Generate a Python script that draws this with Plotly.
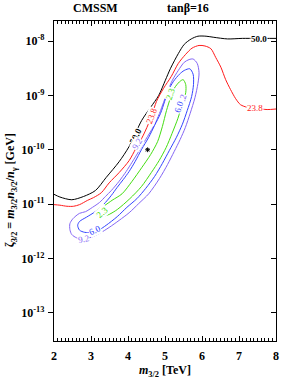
import plotly.graph_objects as go

# ---- data (x in TeV, z = log10 of zeta_3/2 in GeV) ----
c50_x = [2.00, 2.16, 2.48, 2.80, 3.12, 3.41, 3.76, 4.03, 4.37, 4.61, 4.83, 5.01, 5.15, 5.36, 5.52, 5.71, 5.89, 6.11, 6.32, 6.69, 7.09, 7.49, 8.00]
c50_z = [-10.82, -10.87, -10.92, -10.86, -10.75, -10.51, -10.22, -9.94, -9.46, -9.22, -9.00, -8.72, -8.50, -8.23, -8.06, -7.96, -7.91, -7.91, -7.93, -7.96, -7.95, -7.95, -7.95]

c238_x = [2.00, 2.16, 2.35, 2.53, 2.69, 2.91, 3.07, 3.28, 3.49, 3.76, 4.03, 4.21, 4.37, 4.51, 4.64, 4.77, 4.96, 5.17, 5.36, 5.55, 5.73, 5.92, 6.08, 6.24, 6.37, 6.51, 6.64, 6.77, 6.91, 7.04, 7.23, 7.49, 7.76, 8.00]
c238_z = [-11.01, -11.02, -11.04, -11.04, -11.01, -10.93, -10.88, -10.79, -10.61, -10.42, -10.20, -9.98, -9.79, -9.59, -9.37, -9.11, -8.87, -8.65, -8.41, -8.25, -8.13, -8.08, -8.09, -8.14, -8.30, -8.48, -8.71, -8.89, -9.06, -9.17, -9.22, -9.24, -9.26, -9.25]

c92_x = [5.76, 5.87, 5.92, 5.89, 5.81, 5.68, 5.55, 5.41, 5.25, 5.07, 4.85, 4.56, 4.29, 4.03, 3.76, 3.49, 3.23, 3.01, 2.80, 2.61, 2.48, 2.43, 2.43, 2.51, 2.69, 2.85, 3.04, 3.23, 3.39, 3.55, 3.76, 3.95, 4.11, 4.29, 4.48, 4.69, 4.85, 4.96, 5.07, 5.20, 5.36, 5.52, 5.65]
c92_z = [-8.33, -8.41, -8.58, -8.78, -9.04, -9.33, -9.59, -9.81, -10.03, -10.27, -10.53, -10.81, -10.99, -11.16, -11.30, -11.43, -11.54, -11.61, -11.63, -11.62, -11.56, -11.47, -11.36, -11.27, -11.17, -11.14, -11.06, -10.97, -10.86, -10.75, -10.58, -10.40, -10.23, -10.03, -9.81, -9.57, -9.33, -9.13, -8.93, -8.72, -8.54, -8.39, -8.34]

c60_x = [5.67, 5.76, 5.77, 5.72, 5.60, 5.47, 5.31, 5.12, 4.93, 4.72, 4.48, 4.24, 3.97, 3.71, 3.41, 3.23, 3.01, 2.83, 2.69, 2.64, 2.69, 2.88, 3.07, 3.23, 3.39, 3.55, 3.71, 3.87, 4.03, 4.19, 4.37, 4.56, 4.72, 4.88, 4.99, 5.09, 5.23, 5.39, 5.52]
c60_z = [-8.51, -8.61, -8.80, -9.02, -9.28, -9.53, -9.77, -10.01, -10.25, -10.49, -10.71, -10.90, -11.06, -11.23, -11.39, -11.47, -11.52, -11.52, -11.48, -11.39, -11.32, -11.24, -11.16, -11.08, -10.97, -10.84, -10.69, -10.55, -10.40, -10.22, -9.99, -9.77, -9.55, -9.33, -9.11, -8.91, -8.74, -8.61, -8.54]

c23_x = [5.49, 5.56, 5.56, 5.47, 5.35, 5.19, 5.03, 4.84, 4.63, 4.36, 4.05, 3.71, 3.49, 3.31, 3.17, 3.13, 3.20, 3.36, 3.57, 3.84, 4.11, 4.37, 4.61, 4.80, 4.93, 5.04, 5.15, 5.25, 5.39]
c23_z = [-8.71, -8.80, -8.95, -9.15, -9.42, -9.70, -9.96, -10.20, -10.42, -10.68, -10.90, -11.10, -11.19, -11.23, -11.21, -11.16, -11.09, -11.03, -10.93, -10.81, -10.58, -10.33, -10.09, -9.85, -9.57, -9.28, -9.04, -8.87, -8.75]

best_x = [4.53]
best_z = [-10.00]

x_ticks = [2, 3, 4, 5, 6, 7, 8]
y_tick_exp = [-8, -9, -10, -11, -12, -13]
y_tick_text = ["10<sup>-8</sup>", "10<sup>-9</sup>", "10<sup>-10</sup>", "10<sup>-11</sup>", "10<sup>-12</sup>", "10<sup>-13</sup>"]

BLACK = "#000000"
RED = "#ff1a1a"
PURPLE = "#8466f5"
BLUE = "#3344ff"
GREEN = "#44dd11"
SERIF = "Liberation Serif"


def pw(z):
    return [10 ** v for v in z]


def closed(a):
    return list(a) + [a[0]]


fig = go.Figure()
curves = [
    (c50_x, c50_z, BLACK, False),
    (c238_x, c238_z, RED, False),
    (c92_x, c92_z, PURPLE, True),
    (c60_x, c60_z, BLUE, True),
    (c23_x, c23_z, GREEN, True),
]
for cx, cz, col, cl in curves:
    xs = closed(cx) if cl else cx
    zs = closed(cz) if cl else cz
    fig.add_trace(go.Scatter(x=xs, y=pw(zs), mode="lines",
                             line=dict(color=col, width=1, shape="spline", smoothing=0.8),
                             showlegend=False, hoverinfo="skip"))

fig.add_trace(go.Scatter(x=best_x, y=pw(best_z), mode="markers",
                         marker=dict(symbol="asterisk-open", size=4, color="black",
                                     line=dict(color="black", width=1)),
                         showlegend=False))
# dummy trace for right-side axis
fig.add_trace(go.Scatter(x=[2], y=[1e-14], yaxis="y2", mode="markers",
                         marker=dict(opacity=0), showlegend=False, hoverinfo="skip"))

labels = [
    ("50.0", 7.55, -7.96, 0, BLACK, True),
    ("50.0", 4.20, -9.74, -63, BLACK, True),
    ("23.8", 4.63, -9.37, -69, RED, False),
    ("23.8", 7.44, -9.23, 0, RED, False),
    ("9.2", 4.25, -9.90, -58, PURPLE, False),
    ("2.3", 5.15, -8.98, -70, GREEN, False),
    ("9.2", 5.47, -9.09, -72, PURPLE, False),
    ("6.0", 5.39, -9.20, -72, BLUE, False),
    ("2.3", 3.31, -11.14, -42, GREEN, False),
    ("6.0", 3.12, -11.48, -25, BLUE, False),
    ("9.2", 2.80, -11.64, -10, PURPLE, False),
]
anns = []
for t, lx, lz, ang, col, b in labels:
    anns.append(dict(text=t, x=lx, y=lz, xref="x", yref="y", showarrow=False,
                     xanchor="center", yanchor="middle",
                     textangle=ang, bgcolor="white", borderpad=0,
                     font=dict(family=SERIF, size=9, color=col, weight="bold" if b else "normal")))

title_font = dict(family=SERIF, size=12, color="black", weight="bold")
anns += [
    dict(text="CMSSM", xref="paper", yref="paper", x=0.187, y=1.0 + 13 / 320, showarrow=False,
         xanchor="center", yanchor="middle", font=title_font),
    dict(text="tanβ=16", xref="paper", yref="paper", x=0.604, y=1.0 + 13 / 320, showarrow=False,
         xanchor="center", yanchor="middle", font=title_font),
    dict(text="ζ<sub>3/2</sub> = <i>m</i><sub>3/2</sub><i>n</i><sub>3/2</sub>/<i>n</i><sub>γ</sub> [GeV]",
         xref="paper", yref="paper", x=-0.195, y=0.47, textangle=-90, showarrow=False,
         xanchor="center", yanchor="middle", font=title_font),
    dict(text="<i>m</i><sub>3/2</sub> [TeV]", xref="paper", yref="paper", x=0.5, y=-(371 - 341) / 320,
         xanchor="center", yanchor="middle", showarrow=False, font=title_font),
]

yr = [-13.52, -7.63]
fig.update_layout(
    width=284, height=382,
    margin=dict(l=54, r=5, t=21, b=41),
    paper_bgcolor="white", plot_bgcolor="white",
    annotations=anns,
    xaxis=dict(range=[2, 8], tickvals=x_ticks, ticks="inside", ticklen=5, tickwidth=1,
               tickcolor="black", mirror="ticks", showline=True, linecolor="black", linewidth=1.2,
               showgrid=False, zeroline=False, ticklabelstandoff=3,
               tickfont=dict(family=SERIF, size=12, color="black", weight="bold"),
               minor=dict(dtick=0.1, ticks="inside", ticklen=2.5, tickwidth=0.8, tickcolor="black",
                          showgrid=False)),
    yaxis=dict(type="log", range=yr, tickvals=[10 ** e for e in y_tick_exp], ticktext=y_tick_text,
               ticks="outside", ticklen=5, tickwidth=1, tickcolor="black",
               showline=True, mirror=True, linecolor="black", linewidth=1.2,
               showgrid=False, zeroline=False, ticklabelstandoff=1,
               tickfont=dict(family=SERIF, size=12, color="black", weight="bold")),
    yaxis2=dict(type="log", range=yr, overlaying="y", side="right",
                tickvals=[10 ** e for e in y_tick_exp], ticks="inside", ticklen=5, tickwidth=1,
                tickcolor="black", showticklabels=False, showgrid=False, zeroline=False,
                showline=False),
)

fig.write_html("out.html", config={"displayModeBar": False},
               post_script="document.body.style.margin='0px';")
